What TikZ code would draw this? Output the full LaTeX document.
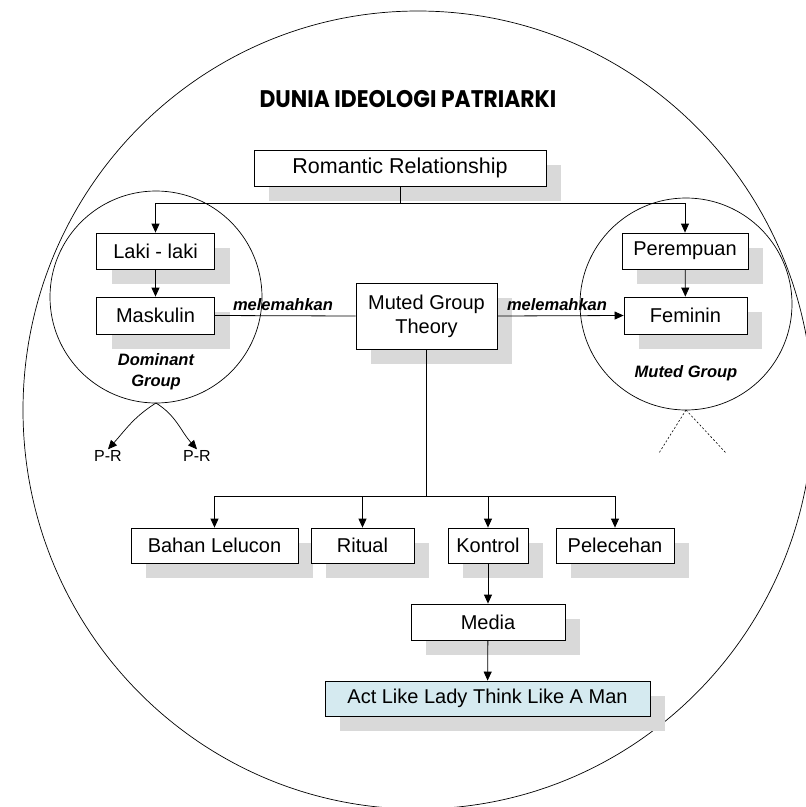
\documentclass[tikz,border=0pt]{standalone}
\usepackage{fontspec}
\setmainfont{Liberation Sans}
\newfontfamily\titlefont{Poppins}
\usetikzlibrary{arrows.meta,shadows}
\definecolor{shadowgray}{RGB}{217,217,217}
\definecolor{actblue}{RGB}{213,234,240}
\begin{document}
\begin{tikzpicture}[x=1pt,y=-1pt,
  box/.style={draw=black,line width=0.8pt,fill=white,inner sep=0pt,
    font=\fontsize{20}{23}\selectfont,align=center,
    drop shadow={shadow xshift=15pt,shadow yshift=-15pt,fill=shadowgray,opacity=1}},
  arr/.style={line width=0.8pt,-{Triangle[length=9pt,width=8pt]}},
  conn/.style={line width=0.8pt},
  lbl/.style={font=\fontsize{16.5}{19}\selectfont\bfseries\itshape,inner sep=0pt,align=center},
  circ/.style={draw=black,line width=0.7pt}]
\useasboundingbox (0,0) rectangle (806,807);
% outer world
\draw[circ] (418,410) ellipse [x radius=395,y radius=399];
\node[font=\titlefont\fontsize{24}{28}\selectfont\bfseries] (title) at (408,99) {\scalebox{0.91}[1]{DUNIA IDEOLOGI PATRIARKI}};
% group circles
\draw[circ] (156,297) circle [radius=106];
\draw[circ] (686,304) circle [radius=106];
\coordinate (dbot) at (156,403);
\coordinate (mbot) at (686,410);
% boxes
\node[box,minimum width=292,minimum height=36,font=\fontsize{21.5}{24}\selectfont] (rom) at (400,168) {Romantic Relationship};
\node[box,minimum width=118,minimum height=36] (laki) at (155.5,251) {Laki - laki};
\node[box,minimum width=118,minimum height=37] (mask) at (155.5,315.5) {Maskulin};
\node[box,minimum width=126,minimum height=36] (per) at (685,251) {Perempuan};
\node[box,minimum width=123,minimum height=37] (fem) at (685.5,315.5) {Feminin};
\node[box,minimum width=141,minimum height=66] (mgt) at (426.5,316) {Muted Group\\[1pt]Theory};
\node[box,minimum width=167,minimum height=35] (bahan) at (214.5,545.5) {Bahan Lelucon};
\node[box,minimum width=103,minimum height=35] (rit) at (362.5,545.5) {Ritual};
\node[box,minimum width=80,minimum height=35] (kon) at (488,545.5) {Kontrol};
\node[box,minimum width=118,minimum height=35] (pel) at (615,545.5) {Pelecehan};
\node[box,minimum width=154,minimum height=36] (med) at (488,622) {Media};
\node[box,fill=actblue,minimum width=325,minimum height=35] (act) at (487.5,698.5) {Act Like Lady Think Like A Man};
% labels
\node[lbl] (mel1) at (283,305) {melemahkan};
\node[lbl] (mel2) at (557,305) {melemahkan};
\node[lbl] (dom) at (156,372) {Dominant\\[2pt]Group};
\node[lbl] (mut) at (686,373) {Muted Group};
\node[font=\fontsize{16}{18}\selectfont,inner sep=1pt] (pr1) at (108,456) {P-R};
\node[font=\fontsize{16}{18}\selectfont,inner sep=1pt] (pr2) at (197,456) {P-R};
% connectors
\coordinate (rj) at (400,203);
\draw[conn] (rom.south) -- (rj);
\draw[arr] (rj) -| (laki.north);
\draw[arr] (rj) -| (per.north);
\draw[arr] (laki) -- (mask);
\draw[arr] (per) -- (fem);
\draw[conn] (mask.east) -- (mgt.west);
\draw[arr] (mgt.east) -- (fem.west);
\coordinate (mj) at (426.5,496);
\draw[conn] (mgt.south) -- (mj);
\draw[arr] (mj) -| (bahan.north);
\draw[arr] (mj) -| (rit.north);
\draw[arr] (mj) -| (kon.north);
\draw[arr] (mj) -| (pel.north);
\draw[arr] (kon) -- (med);
\draw[arr] (med) -- (act);
\draw[arr,line width=0.7pt] (dbot) to[out=212,in=48] (pr1.north);
\draw[arr,line width=0.7pt] (dbot) to[out=-32,in=132] (pr2.north);
\coordinate (d1) at (659,453);
\coordinate (d2) at (726,453);
\draw[conn,line width=0.6pt,dash pattern=on 2pt off 2pt] (mbot) -- (d1);
\draw[conn,line width=0.6pt,dash pattern=on 2pt off 2pt] (mbot) -- (d2);
\end{tikzpicture}
\end{document}
